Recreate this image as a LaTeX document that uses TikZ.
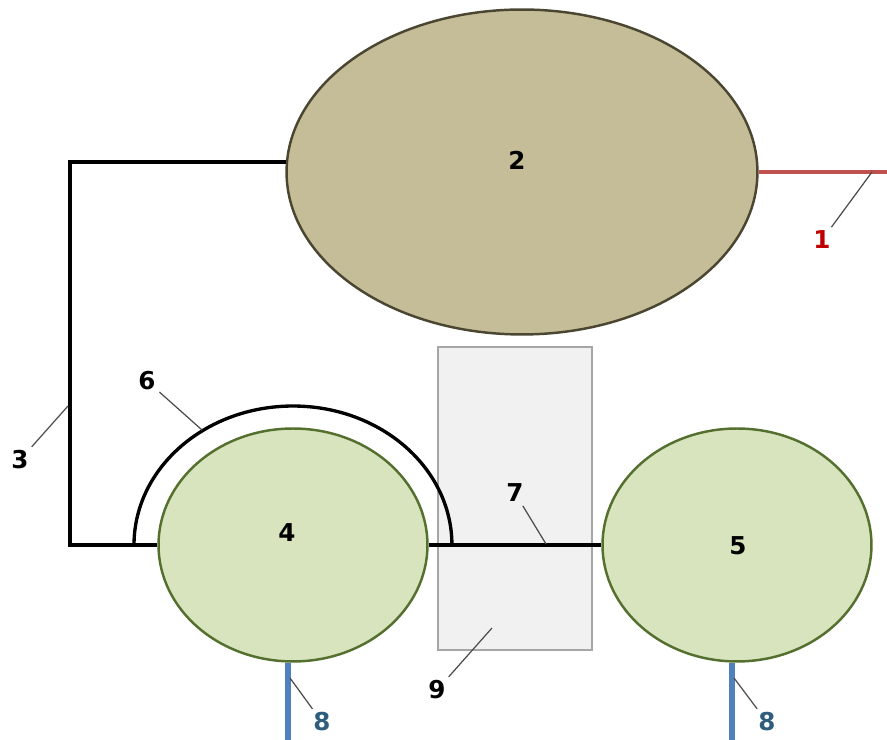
\documentclass[tikz,border=0pt]{standalone}
\usepackage{fontspec}
\setmainfont{DejaVu Sans}
\usetikzlibrary{shapes.geometric}
\definecolor{tankfill}{HTML}{C4BD97}
\definecolor{tankedge}{HTML}{4A4632}
\definecolor{drumfill}{HTML}{D7E4BD}
\definecolor{drumedge}{HTML}{55702E}
\definecolor{boxfill}{HTML}{F1F1F1}
\definecolor{boxedge}{HTML}{A6A6A6}
\definecolor{outred}{HTML}{C0504D}
\definecolor{numred}{HTML}{C00000}
\definecolor{feedblue}{HTML}{4F81BD}
\definecolor{numblue}{HTML}{2E5D7E}
\tikzset{
    % vessel styles
    bigvessel/.style={
           ellipse, draw=tankedge, fill=tankfill,
           line width=1.4pt, inner sep=0pt,
           minimum width=9.42cm, minimum height=6.5cm},
    drum/.style={
           ellipse, draw=drumedge, fill=drumfill,
           line width=1.4pt, inner sep=0pt,
           minimum width=5.38cm, minimum height=4.66cm},
    casing/.style={
           draw=boxedge, fill=boxfill, line width=1.4pt,
           minimum width=3.08cm, minimum height=6.06cm},
    % line styles
    pipe/.style={line width=1.9pt},
    feed/.style={line width=3.2pt, draw=feedblue},
    leader/.style={draw=black!70, line width=0.7pt},
    % numbers
    num/.style={font=\bfseries\fontsize{14}{16}\selectfont, inner sep=2pt}
}
\begin{document}
\begin{tikzpicture}[x=0.02cm, y=0.02cm]
    \useasboundingbox (0,0) rectangle (887,740);

    % casing 9
    \node[casing] (box9) at (515,241.5) {};

    % vessels
    \node[bigvessel] (v2) at (522,568) {};
    \node[drum] (v4) at (293,195) {};
    \node[drum] (v5) at (737,195) {};

    % pipes
    \coordinate (out1) at (887,568);
    \coordinate (k3a) at (70,578);
    \coordinate (k3b) at (70,195);
    \coordinate (f8l) at (288,0);
    \coordinate (f8r) at (732,0);
    \draw[pipe, draw=outred] (v2.east) -- (out1);
    \draw[pipe] (v2.177.5 |- k3a) -- (k3a) -- (k3b) -- (v4.west);
    \draw[pipe] (v4.east) -- (v5.west);
    \draw[feed] (v4.south -| f8l) -- (f8l);
    \draw[feed] (v5.south -| f8r) -- (f8r);

    % hood 6
    \coordinate (a6) at (134,195);
    \draw[pipe] (a6) arc[start angle=180, end angle=0, x radius=3.18cm, y radius=2.78cm];

    % numbers
    \node[num] (n2) at (517,580) {2};
    \node[num] (n4) at (287,207) {4};
    \node[num] (n5) at (738,194) {5};
    \node[num, text=numred] (n1) at (822,500) {1};
    \node[num] (n3) at (20,280) {3};
    \node[num] (n6) at (147,359) {6};
    \node[num] (n7) at (515,247) {7};
    \node[num] (n9) at (437,50) {9};
    \node[num, text=numblue] (n8l) at (322,18) {8};
    \node[num, text=numblue] (n8r) at (767,18) {8};

    % leaders
    \coordinate (p1) at (872,568);
    \coordinate (p3) at (68,334);
    \coordinate (p6) at (202,310);
    \coordinate (p7) at (546,196);
    \coordinate (p9) at (492,112);
    \coordinate (p8l) at (290,62);
    \coordinate (p8r) at (734,62);
    \path[leader] (p1) -- (n1)
                  (p3) -- (n3)
                  (p6) -- (n6)
                  (p7) -- (n7)
                  (p9) -- (n9)
                  (p8l) -- (n8l)
                  (p8r) -- (n8r);
\end{tikzpicture}
\end{document}
